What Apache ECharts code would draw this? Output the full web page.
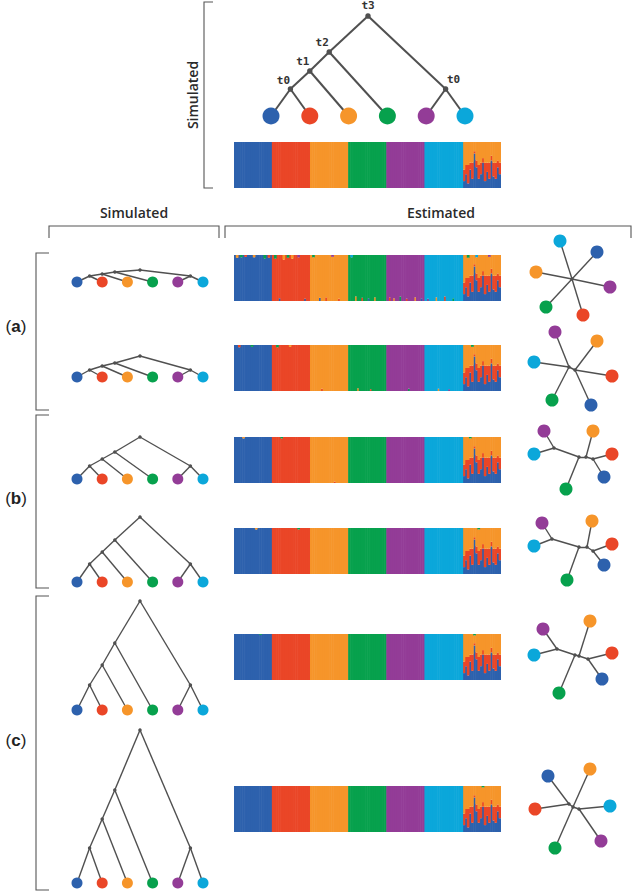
<!DOCTYPE html>
<html><head><meta charset="utf-8">
<script src="https://cdn.jsdelivr.net/npm/echarts@6/dist/echarts.min.js"></script>
<style>html,body{margin:0;padding:0;background:#fff}#c{width:632px;height:892px}</style>
</head><body><div id="c"></div>
<script>
// ---------------- DATA ----------------
const clusterNames = ['Pop1', 'Pop2', 'Pop3', 'Pop4', 'Pop5', 'Pop6'];
const clusterColors = ['#2d61ad', '#ea4627', '#f6952a', '#07a14d', '#933c97', '#0ba7da'];
const nodeLabels = ['t0', 't1', 't2', 't3'];
// rooted topology: ((((P1,P2)t0,P3)t1,P4)t2,(P5,P6)t0)t3
const treeTopology = {t: 3, c: [{t: 2, c: [{t: 1, c: [{t: 0, c: [0, 1]}, 2]}, 3]}, {t: 0, c: [4, 5]}]};
// divergence times t0..t3 (relative units)
const timesTop = [27, 45, 64, 100];
const timesA1 = [6, 8, 10, 12];
const timesA2 = [7, 11, 14, 21];
const timesB1 = [13, 20, 27, 42];
const timesB2 = [18, 30, 42, 65];
const timesC1 = [25, 45, 67, 109];
const timesC2 = [35, 64, 93, 153];

// structure plots: 6 unadmixed groups + 1 admixed group
const groupSize = 18;
const pureFraction = 1;
const admixBlue   = [0.15, 0.30, 0.10, 0.40, 0.20, 0.75, 0.45, 0.20, 0.30, 0.55, 0.15, 0.35, 0.20, 0.60, 0.25, 0.20, 0.45, 0.30];
const admixRed    = [0.25, 0.20, 0.40, 0.15, 0.35, 0.05, 0.15, 0.30, 0.25, 0.10, 0.40, 0.20, 0.35, 0.10, 0.30, 0.35, 0.15, 0.25];
const admixOrange = [0.60, 0.50, 0.50, 0.45, 0.45, 0.20, 0.40, 0.50, 0.45, 0.35, 0.45, 0.45, 0.45, 0.30, 0.45, 0.45, 0.40, 0.45];
// estimated-membership deviations: [individual, cluster, fraction]
const noiseTop = [];
const noiseA1 = [[1,2,0.06],[3,3,0.05],[5,1,0.04],[9,2,0.05],[14,3,0.08],[16,1,0.06],
  [19,3,0.08],[21,0,0.06],[23,2,0.10],[25,3,0.06],[27,2,0.08],[30,4,0.05],[33,0,0.05],
  [37,3,0.05],[40,0,0.07],[43,1,0.08],[46,4,0.04],[49,1,0.05],
  [55,5,0.05],[57,2,0.10],[60,1,0.07],[63,0,0.06],[66,2,0.08],
  [73,1,0.08],[75,2,0.06],[78,3,0.10],[81,1,0.05],[85,2,0.08],[88,0,0.06],
  [91,4,0.05],[95,2,0.08],[99,1,0.10],[103,3,0.06],
  [110,3,0.06],[114,5,0.05],[120,4,0.04]];
const noiseA2 = [[2,1,0.05],[8,3,0.04],[20,3,0.05],[26,2,0.04],[41,1,0.05],[58,2,0.06],
  [64,1,0.04],[82,3,0.05],[96,2,0.05],[101,4,0.04],[112,3,0.04]];
const noiseB1 = [[4,2,0.03],[22,3,0.03],[47,1,0.03],[111,3,0.03]];
const noiseB2 = [[10,2,0.03],[30,3,0.03],[115,3,0.03]];
const noiseC1 = [[12,3,0.02],[113,3,0.03]];
const noiseC2 = [[117,3,0.03]];

// estimated unrooted trees: leaves [cluster, x, y]; internal nodes [x, y]; edges
const unrootedA1 = {
  leaves: [[0,25,27],[1,11,-36],[2,-36,7],[3,-26,-28],[4,38,-8],[5,-12,38]],
  nodes: [[0,0]],
  edges: [['N0','L0'],['N0','L1'],['N0','L2'],['N0','L3'],['N0','L4'],['N0','L5']]
};
const unrootedA2 = {
  leaves: [[0,19,-37],[1,40,-8],[2,25,27],[3,-20,-32],[4,-17,36],[5,-38,6]],
  nodes: [[-3,1],[3,-2]],
  edges: [['N0','N1'],['N0','L4'],['N0','L5'],['N0','L3'],['N1','L2'],['N1','L1'],['N1','L0']]
};
const unrootedB1 = {
  leaves: [[0,32,-19],[1,40,4],[2,21,27],[3,-6,-31],[4,-28,27],[5,-38,4]],
  nodes: [[-18,10],[7,1],[14,1],[21,-1]],
  edges: [['N0','L4'],['N0','L5'],['N0','N1'],['N1','L3'],['N1','N2'],['N2','L2'],['N2','N3'],['N3','L1'],['N3','L0']]
};
const unrootedB2 = {
  leaves: [[0,32,-15],[1,40,6],[2,20,29],[3,-5,-30],[4,-30,27],[5,-38,4]],
  nodes: [[-20,11],[7,3],[15,3],[21,-1]],
  edges: [['N0','L4'],['N0','L5'],['N0','N1'],['N1','L3'],['N1','N2'],['N2','L2'],['N2','N3'],['N3','L1'],['N3','L0']]
};
const unrootedC1 = {
  leaves: [[0,30,-23],[1,40,3],[2,18,35],[3,-13,-37],[4,-29,27],[5,-38,1]],
  nodes: [[-15,7],[3,1],[7,0],[16,-3]],
  edges: [['N0','L4'],['N0','L5'],['N0','N1'],['N1','L3'],['N1','N2'],['N2','L2'],['N2','N3'],['N3','L1'],['N3','L0']]
};
const unrootedC2 = {
  leaves: [[0,-24,32],[1,-37,-1],[2,18,39],[3,-17,-40],[4,29,-33],[5,38,2]],
  nodes: [[-3,4],[1,1],[7,-1]],
  edges: [['N0','L0'],['N0','L1'],['N0','N1'],['N1','L2'],['N1','L3'],['N1','N2'],['N2','L5'],['N2','L4']]
};

// ---------------- LAYOUT ----------------
const LINE = '#505050';
const rows = [
  {times: timesA1, noise: noiseA1, un: unrootedA1, leafY: 282, barTop: 255, uc: [572, 279]},
  {times: timesA2, noise: noiseA2, un: unrootedA2, leafY: 377, barTop: 345, uc: [572, 368]},
  {times: timesB1, noise: noiseB1, un: unrootedB1, leafY: 479, barTop: 437, uc: [572, 458]},
  {times: timesB2, noise: noiseB2, un: unrootedB2, leafY: 582, barTop: 528, uc: [572, 550]},
  {times: timesC1, noise: noiseC1, un: unrootedC1, leafY: 710, barTop: 634, uc: [572, 656]},
  {times: timesC2, noise: noiseC2, un: unrootedC2, leafY: 883, barTop: 786, uc: [572, 808]}
];

const grids = [], xAxes = [], yAxes = [], series = [];
function addGrid(g, xa, ya) {
  const i = grids.length;
  grids.push(Object.assign({containLabel: false}, g));
  xAxes.push(Object.assign({gridIndex: i, show: false}, xa));
  yAxes.push(Object.assign({gridIndex: i, show: false}, ya));
  return i;
}

function layoutTree(times) {
  const nodes = [], edges = [];
  function rec(n) {
    if (typeof n === 'number') return {x: n, y: 0, leaves: [n]};
    const kids = n.c.map(rec);
    const leaves = kids.flatMap(k => k.leaves);
    const x = leaves.reduce((a, b) => a + b, 0) / leaves.length;
    const y = times[n.t];
    nodes.push({name: nodeLabels[n.t], value: [x, y], t: n.t});
    kids.forEach(k => edges.push({coords: [[x, y], [k.x, k.y]]}));
    return {x, y, leaves};
  }
  rec(treeTopology);
  return {nodes, edges};
}

function addRootedTree(times, box, leafSize, nodeSize, lw, withLabels) {
  const gi = addGrid({left: box.left, top: box.top, width: box.width, height: box.height},
    {type: 'value', min: 0, max: 5}, {type: 'value', min: 0, max: box.ymax});
  const tr = layoutTree(times);
  series.push({type: 'lines', coordinateSystem: 'cartesian2d', xAxisIndex: gi, yAxisIndex: gi,
    data: tr.edges, lineStyle: {color: LINE, width: lw, opacity: 1}, z: 2, silent: true});
  const labelOffsets = {3: [0, -11], 2: [-7, -10], 1: [-7, -10], 0: [-7, -9]};
  series.push({type: 'scatter', xAxisIndex: gi, yAxisIndex: gi, symbolSize: nodeSize, z: 3,
    itemStyle: {color: LINE, opacity: 1},
    data: tr.nodes.map(n => ({name: n.name, value: n.value,
      label: withLabels ? {show: true, position: 'inside', formatter: '{b}',
        offset: n.value[0] > 2.5 ? [8, -10] : labelOffsets[n.t],
        fontFamily: 'DejaVu Sans Mono', fontWeight: 'bold', fontSize: 11, color: '#333'} : {show: false}}))});
  series.push({type: 'scatter', xAxisIndex: gi, yAxisIndex: gi, symbolSize: leafSize, z: 4,
    data: clusterNames.map((nm, i) => ({name: nm, value: [i, 0], itemStyle: {color: clusterColors[i], opacity: 1}}))});
}

function buildStructure(noise) {
  const n = groupSize * 7;
  const vals = clusterColors.map(() => new Array(n).fill(0));
  for (let g = 0; g < 6; g++) for (let i = 0; i < groupSize; i++) vals[g][g * groupSize + i] = pureFraction;
  for (let i = 0; i < groupSize; i++) {
    const k = 6 * groupSize + i;
    vals[0][k] = admixBlue[i]; vals[1][k] = admixRed[i]; vals[2][k] = admixOrange[i];
  }
  noise.forEach(([ind, cl, f]) => {
    const g = Math.floor(ind / groupSize);
    const main = g < 6 ? g : 2;
    vals[main][ind] -= f; vals[cl][ind] += f;
  });
  // empty memberships are not drawn
  return vals.map(v => v.map(x => x > 0 ? x : '-'));
}

function addStructure(noise, top) {
  const n = groupSize * 7;
  const gi = addGrid({left: 234, top: top, width: 267, height: 46},
    {type: 'category', data: Array.from({length: n}, (_, i) => 'ind' + (i + 1))},
    {type: 'value', min: 0, max: 1});
  const vals = buildStructure(noise);
  vals.forEach((v, c) => series.push({type: 'bar', name: clusterNames[c], xAxisIndex: gi, yAxisIndex: gi,
    stack: 's' + gi, barCategoryGap: '0%', barWidth: 2.7, data: v, silent: true,
    itemStyle: {color: clusterColors[c], opacity: 1}}));
}

function addUnrooted(un, center) {
  const gi = addGrid({left: center[0] - 50, top: center[1] - 50, width: 100, height: 100},
    {type: 'value', min: -50, max: 50}, {type: 'value', min: -50, max: 50});
  const pos = {};
  un.leaves.forEach(([c, x, y]) => pos['L' + c] = [x, y]);
  un.nodes.forEach(([x, y], i) => pos['N' + i] = [x, y]);
  series.push({type: 'lines', coordinateSystem: 'cartesian2d', xAxisIndex: gi, yAxisIndex: gi, silent: true,
    data: un.edges.map(([a, b]) => ({coords: [pos[a], pos[b]]})),
    lineStyle: {color: LINE, width: 1.4, opacity: 1}, z: 2});
  series.push({type: 'scatter', xAxisIndex: gi, yAxisIndex: gi, symbolSize: 3.5, z: 3,
    itemStyle: {color: LINE, opacity: 1}, data: un.nodes});
  series.push({type: 'scatter', xAxisIndex: gi, yAxisIndex: gi, symbolSize: 13, z: 4,
    data: un.leaves.map(([c, x, y]) => ({name: clusterNames[c], value: [x, y], itemStyle: {color: clusterColors[c], opacity: 1}}))});
}

// top simulated panel
addRootedTree(timesTop, {left: 271, top: 16, width: 194, height: 100, ymax: 100}, 17, 5.5, 2, true);
addStructure(noiseTop, 142);

rows.forEach(r => {
  addRootedTree(r.times, {left: 77, top: r.leafY - 160, width: 126, height: 160, ymax: 160}, 11, 3.5, 1.4, false);
  addStructure(r.noise, r.barTop);
  addUnrooted(r.un, r.uc);
});

const textFont = '600 14px "Open Sans", "Noto Sans", sans-serif';
const bracketStyle = {stroke: '#555', lineWidth: 1.1, fill: null};
const graphic = [
  {type: 'polyline', shape: {points: [[213, 2], [204, 2], [204, 188], [213, 188]]}, style: bracketStyle},
  {type: 'text', x: 192, y: 95, rotation: Math.PI / 2,
    style: {text: 'Simulated', font: textFont, fill: '#2a2a2a', align: 'center', verticalAlign: 'middle'}},
  {type: 'text', x: 134, y: 212, style: {text: 'Simulated', font: textFont, fill: '#2a2a2a', align: 'center', verticalAlign: 'middle'}},
  {type: 'text', x: 441, y: 212, style: {text: 'Estimated', font: textFont, fill: '#2a2a2a', align: 'center', verticalAlign: 'middle'}},
  {type: 'polyline', shape: {points: [[49, 238], [49, 226], [219, 226], [219, 238]]}, style: bracketStyle},
  {type: 'polyline', shape: {points: [[225, 238], [225, 226], [631, 226], [631, 238]]}, style: bracketStyle},
  {type: 'polyline', shape: {points: [[49, 253], [36, 253], [36, 410], [49, 410]]}, style: bracketStyle},
  {type: 'polyline', shape: {points: [[49, 415], [36, 415], [36, 588], [49, 588]]}, style: bracketStyle},
  {type: 'polyline', shape: {points: [[49, 596], [36, 596], [36, 890], [49, 890]]}, style: bracketStyle}
];
[['a', 326], ['b', 498], ['c', 740]].forEach(([l, y]) => graphic.push({type: 'text', x: 16, y: y,
  style: {text: '(' + '{b|' + l + '})', font: '17px "Liberation Sans", Arial, sans-serif', fill: '#222',
    align: 'center', verticalAlign: 'middle',
    rich: {b: {fontWeight: 'bold', fontSize: 17, fontFamily: '"Liberation Sans", Arial, sans-serif', fill: '#222'}}}}));

const chart = echarts.init(document.getElementById('c'), null, {renderer: 'svg'});
chart.setOption({
  animation: false,
  backgroundColor: '#fff',
  grid: grids, xAxis: xAxes, yAxis: yAxes,
  series: series,
  graphic: graphic
});
</script></body></html>
